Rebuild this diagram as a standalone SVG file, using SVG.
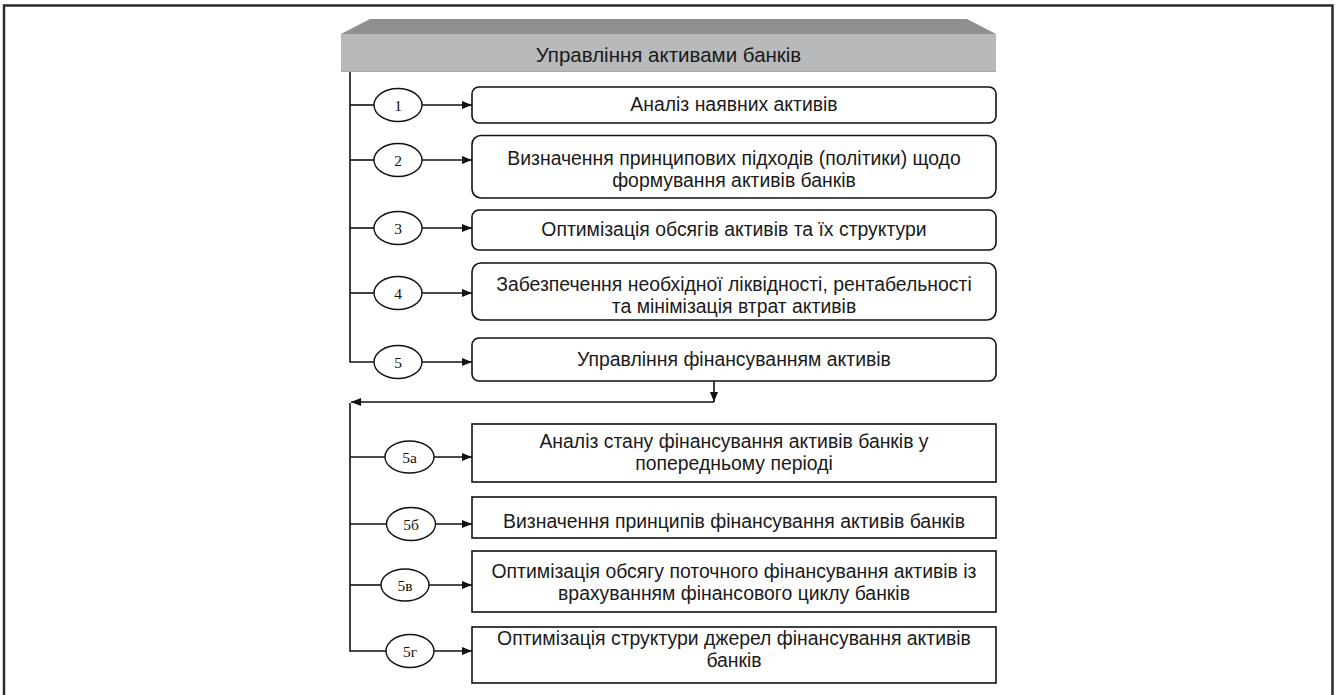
<svg xmlns="http://www.w3.org/2000/svg" width="1336" height="695" viewBox="0 0 1336 695">
<defs>
<marker id="ah" markerWidth="10" markerHeight="8" refX="10" refY="4" orient="auto" markerUnits="userSpaceOnUse">
<path d="M0,0 L10,4 L0,8 Z" fill="#111"/>
</marker>
<style>
.ln{stroke:#111;stroke-width:1.6;fill:none}
.box{fill:#fff;stroke:#111;stroke-width:1.6}
.el{fill:#fff;stroke:#111;stroke-width:1.4}
.t{font-family:"Liberation Sans",Arial,sans-serif;font-size:19.4px;fill:#1a1a1a;text-anchor:middle}
.n{font-family:"Liberation Serif","Times New Roman",serif;font-size:15.5px;fill:#111;text-anchor:middle}
</style>
</defs>
<rect x="0" y="0" width="1336" height="695" fill="#fff"/>
<rect x="4" y="5.5" width="1328.5" height="700" fill="none" stroke="#2b2b2b" stroke-width="2.5"/>

<g id="header">
<polygon points="341,34 370,19 967,19 996,34" fill="#8d8f91"/>
<rect x="341" y="34" width="655" height="38" fill="#b7b9bb"/>
<line x1="341" y1="71.5" x2="996" y2="71.5" stroke="#a4a6a8" stroke-width="1"/>
<text class="t" x="668.5" y="61.5" style="font-size:20.5px">Управління активами банків</text>
</g>

<g id="connectors">
<polyline class="ln" points="350,72 350,362 374,362"/>
<line class="ln" x1="350" y1="105" x2="374" y2="105"/>
<line class="ln" x1="350" y1="160" x2="374" y2="160"/>
<line class="ln" x1="350" y1="228" x2="374" y2="228"/>
<line class="ln" x1="350" y1="293" x2="374" y2="293"/>
<line class="ln" x1="422" y1="105" x2="472" y2="105" marker-end="url(#ah)"/>
<line class="ln" x1="422" y1="160" x2="472" y2="160" marker-end="url(#ah)"/>
<line class="ln" x1="422" y1="228" x2="472" y2="228" marker-end="url(#ah)"/>
<line class="ln" x1="422" y1="293" x2="472" y2="293" marker-end="url(#ah)"/>
<line class="ln" x1="422" y1="362" x2="472" y2="362" marker-end="url(#ah)"/>
<line class="ln" x1="714" y1="381" x2="714" y2="402" marker-end="url(#ah)"/>
<line class="ln" x1="714" y1="402" x2="351" y2="402" marker-end="url(#ah)"/>
<polyline class="ln" points="350,403 350,651 386,651"/>
<line class="ln" x1="350" y1="457" x2="385" y2="457"/>
<line class="ln" x1="350" y1="524" x2="387" y2="524"/>
<line class="ln" x1="350" y1="585" x2="381" y2="585"/>
<line class="ln" x1="434" y1="457" x2="472" y2="457" marker-end="url(#ah)"/>
<line class="ln" x1="435" y1="524" x2="472" y2="524" marker-end="url(#ah)"/>
<line class="ln" x1="429" y1="585" x2="472" y2="585" marker-end="url(#ah)"/>
<line class="ln" x1="434" y1="651" x2="472" y2="651" marker-end="url(#ah)"/>
</g>

<g id="e1"><ellipse class="el" cx="398" cy="105" rx="24" ry="16.5"/><text class="n" x="398" y="110.5">1</text></g>
<g id="e2"><ellipse class="el" cx="398" cy="160" rx="24" ry="16.5"/><text class="n" x="398" y="165.5">2</text></g>
<g id="e3"><ellipse class="el" cx="398" cy="228" rx="24" ry="16.5"/><text class="n" x="398" y="233.5">3</text></g>
<g id="e4"><ellipse class="el" cx="398" cy="293" rx="24" ry="16.5"/><text class="n" x="398" y="298.5">4</text></g>
<g id="e5"><ellipse class="el" cx="398" cy="362" rx="24" ry="16.5"/><text class="n" x="398" y="367.5">5</text></g>
<g id="e5a"><ellipse class="el" cx="409.5" cy="457" rx="24.5" ry="16"/><text class="n" x="409.5" y="462.5">5а</text></g>
<g id="e5b"><ellipse class="el" cx="411" cy="524" rx="24.5" ry="16.5"/><text class="n" x="411" y="529.5">5б</text></g>
<g id="e5v"><ellipse class="el" cx="405" cy="585" rx="24" ry="16"/><text class="n" x="405" y="590.5">5в</text></g>
<g id="e5g"><ellipse class="el" cx="410" cy="651" rx="24" ry="16.5"/><text class="n" x="410" y="656.5">5г</text></g>

<g id="b1"><rect class="box" x="472" y="87" width="524" height="36" rx="7"/><text class="t" x="734" y="111">Аналіз наявних активів</text></g>
<g id="b2"><rect class="box" x="472" y="135.5" width="524" height="62.5" rx="9"/><text class="t" x="734" y="165">Визначення принципових підходів (політики) щодо</text><text class="t" x="734" y="187">формування активів банків</text></g>
<g id="b3"><rect class="box" x="472" y="210" width="524" height="40" rx="7"/><text class="t" x="734" y="236">Оптимізація обсягів активів та їх структури</text></g>
<g id="b4"><rect class="box" x="472" y="263" width="524" height="57" rx="9"/><text class="t" x="734" y="291">Забезпечення необхідної ліквідності, рентабельності</text><text class="t" x="734" y="313">та мінімізація втрат активів</text></g>
<g id="b5"><rect class="box" x="472" y="338" width="524" height="43" rx="7"/><text class="t" x="734" y="366">Управління фінансуванням активів</text></g>
<g id="b5a"><rect class="box" x="472" y="424" width="524" height="58"/><text class="t" x="734" y="448">Аналіз стану фінансування активів банків у</text><text class="t" x="734" y="470">попередньому періоді</text></g>
<g id="b5b"><rect class="box" x="472" y="497" width="524" height="41"/><text class="t" x="734" y="528">Визначення принципів фінансування активів банків</text></g>
<g id="b5v"><rect class="box" x="472" y="551" width="524" height="61"/><text class="t" x="734" y="578">Оптимізація обсягу поточного фінансування активів із</text><text class="t" x="734" y="600">врахуванням фінансового циклу банків</text></g>
<g id="b5g"><rect class="box" x="472" y="627" width="524" height="56"/><text class="t" x="734" y="645">Оптимізація структури джерел фінансування активів</text><text class="t" x="734" y="667">банків</text></g>
</svg>
